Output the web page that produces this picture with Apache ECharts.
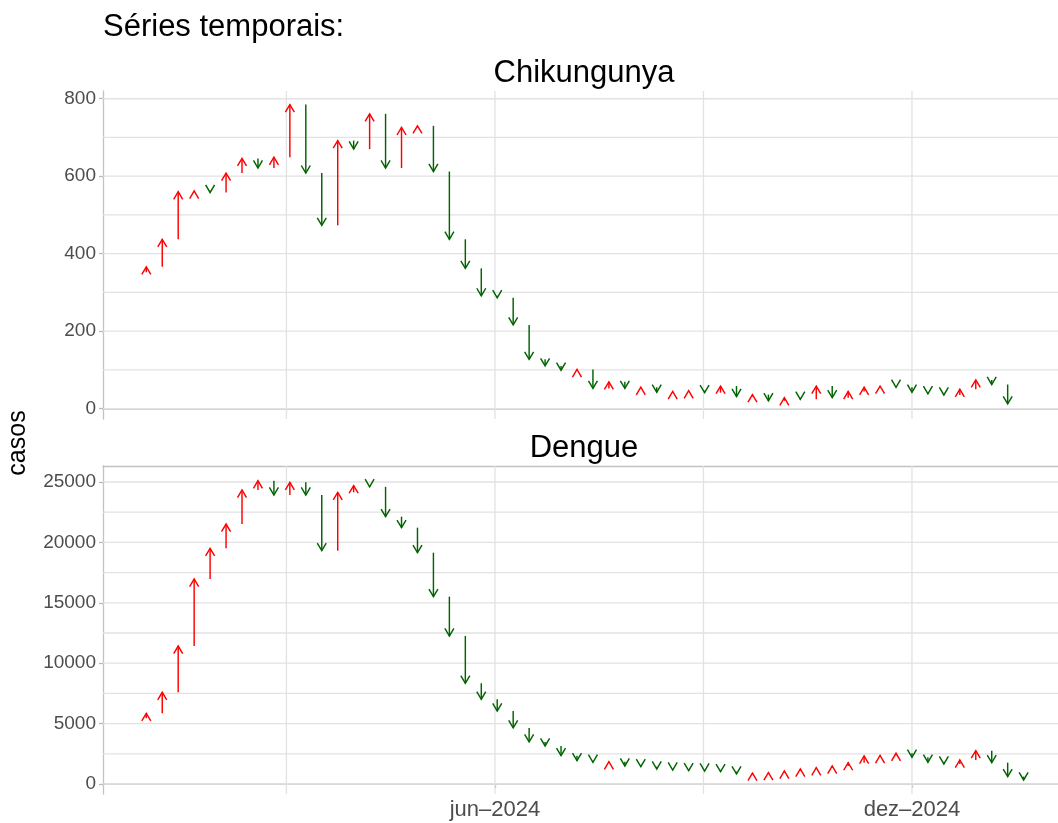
<!DOCTYPE html>
<html><head><meta charset="utf-8">
<script src="https://cdn.jsdelivr.net/npm/echarts@6/dist/echarts.min.js"></script>
<style>html,body{margin:0;padding:0;background:#fff}#c{width:1058px;height:823px}</style>
</head><body><div id="c"></div>
<script>
// ---- data ----
const weeks = ['2023-12-24','2023-12-31','2024-01-07','2024-01-14','2024-01-21','2024-01-28','2024-02-04','2024-02-11','2024-02-18','2024-02-25','2024-03-03','2024-03-10','2024-03-17','2024-03-24','2024-03-31','2024-04-07','2024-04-14','2024-04-21','2024-04-28','2024-05-05','2024-05-12','2024-05-19','2024-05-26','2024-06-02','2024-06-09','2024-06-16','2024-06-23','2024-06-30','2024-07-07','2024-07-14','2024-07-21','2024-07-28','2024-08-04','2024-08-11','2024-08-18','2024-08-25','2024-09-01','2024-09-08','2024-09-15','2024-09-22','2024-09-29','2024-10-06','2024-10-13','2024-10-20','2024-10-27','2024-11-03','2024-11-10','2024-11-17','2024-11-24','2024-12-01','2024-12-08','2024-12-15','2024-12-22','2024-12-29','2025-01-05','2025-01-12','2025-01-19'];
const chikungunya = [352,366,437,560,562,558,608,646,621,649,785,608,473,692,670,761,621,726,730,612,437,362,291,286,216,127,110,99,101,52,69,52,55,42,44,46,41,58,31,36,20,28,24,58,28,44,55,58,55,42,38,35,50,74,62,12];
const dengue = [5450,5850,7590,11420,16970,19510,21520,24340,25110,23920,24975,23920,19315,24145,24700,24600,22130,21220,19150,15510,12250,8336,7010,6040,4640,3480,3145,2345,1930,1795,1840,1490,1435,1240,1150,1100,1070,1020,830,900,940,1075,1240,1350,1490,1765,2320,2360,2540,2210,1795,1655,1987,2760,1765,605,330];
const chikTicks = [0,200,400,600,800];
const chikMinor = [100,300,500,700];
const dengueTicks = [0,5000,10000,15000,20000,25000];
const dengueMinor = [2500,7500,12500,17500,22500];
const xTickDates = ['2024-06-01','2024-12-01'];
const xTickLabels = ['jun\u20132024','dez\u20132024'];
const xMinorDates = ['2024-03-01 12:00','2024-08-31 12:00'];
const panelNames = ['Chikungunya','Dengue'];
const titleText = 'Séries temporais:';
const yTitle = 'casos';

// ---- helpers ----
function ts(s){ return new Date(s.length===10 ? s+'T00:00:00' : s.replace(' ','T')+':00').getTime(); }
const X_MIN = ts('2023-12-12 00:00'), X_MAX = ts('2025-02-03 02:00');
const GRID_COLOR = '#E2E2E2', AXIS_COLOR = '#C2C2C2', LABEL_COLOR = '#4D4D4D';
const FONT = 'Liberation Sans';

function arrowData(vals){
  const out = [];
  for (let k = 1; k < vals.length; k++) out.push([ts(weeks[k]), vals[k-1], vals[k]]);
  return out;
}
function renderArrow(params, api){
  const x = api.value(0), a = api.value(1), b = api.value(2);
  const p1 = api.coord([x,a]), p2 = api.coord([x,b]);
  const up = b >= a;
  const color = up ? '#FF0000' : '#006400';
  const dir = up ? 1 : -1;
  const hl = 7.6, hw = 4.5;
  return {type:'group', children:[
    {type:'line', shape:{x1:p1[0],y1:p1[1],x2:p2[0],y2:p2[1]}, style:{stroke:color,lineWidth:1.45}},
    {type:'polyline', shape:{points:[[p2[0]-hw,p2[1]+dir*hl],[p2[0],p2[1]],[p2[0]+hw,p2[1]+dir*hl]]}, style:{stroke:color,fill:null,lineWidth:1.45}}
  ]};
}
function renderH(params, api){
  const cs = params.coordSys;
  const y = api.coord([api.value(0), api.value(1)])[1];
  return {type:'line', shape:{x1:cs.x,y1:y,x2:cs.x+cs.width,y2:y}, style:{stroke:GRID_COLOR,lineWidth:1.3}, silent:true};
}
function renderV(params, api){
  const cs = params.coordSys;
  const x = api.coord([api.value(0), api.value(1)])[0];
  return {type:'line', shape:{x1:x,y1:cs.y,x2:x,y2:cs.y+cs.height}, style:{stroke:GRID_COLOR,lineWidth:1.3}, silent:true};
}
const vDates = xMinorDates.concat(xTickDates).map(ts);
const xTickTs = xTickDates.map(ts);

function yAxisCfg(idx, min, max, ticks){
  return {type:'value', gridIndex:idx, min:min, max:max,
    axisLine:{show:true,lineStyle:{color:AXIS_COLOR,width:1.3}},
    axisTick:{show:true,customValues:ticks,length:4,lineStyle:{color:'#B8B8B8',width:1.3}},
    axisLabel:{customValues:ticks,color:LABEL_COLOR,fontSize:19,fontFamily:FONT,margin:7,
      formatter:function(v){ return String(v); }},
    splitLine:{show:false}};
}

const chart = echarts.init(document.getElementById('c'), null, {renderer:'canvas'});
chart.setOption({
  animation:false,
  backgroundColor:'#fff',
  grid:[
    {left:103,right:0,top:91,bottom:404},
    {left:103,right:0,top:466,bottom:29}
  ],
  xAxis:[
    {type:'value',gridIndex:0,min:X_MIN,max:X_MAX,axisLine:{show:true,lineStyle:{color:AXIS_COLOR,width:1.5}},axisTick:{show:false},axisLabel:{show:false},splitLine:{show:false}},
    {type:'value',gridIndex:1,min:X_MIN,max:X_MAX,position:'bottom',
      axisLine:{show:true,lineStyle:{color:AXIS_COLOR,width:1.5}},
      axisTick:{show:true,customValues:xTickTs,length:4,lineStyle:{color:'#B8B8B8',width:1.3}},
      axisLabel:{customValues:xTickTs,color:LABEL_COLOR,fontSize:22,fontFamily:FONT,margin:5,
        formatter:function(v){ const i = xTickTs.indexOf(v); return i>=0 ? xTickLabels[i] : ''; }},
      splitLine:{show:false}},
    {type:'value',gridIndex:1,min:X_MIN,max:X_MAX,position:'top',axisLine:{show:true,lineStyle:{color:AXIS_COLOR,width:1.3}},axisTick:{show:false},axisLabel:{show:false},splitLine:{show:false}}
  ],
  yAxis:[
    yAxisCfg(0,-27,820,chikTicks),
    yAxisCfg(1,-830,26325,dengueTicks)
  ],
  graphic:[
    {type:'text',x:103,y:27.5,style:{text:titleText,font:'31px "Liberation Sans"',fill:'#000',textAlign:'left',textVerticalAlign:'middle'}},
    {type:'text',x:584,y:73,style:{text:panelNames[0],font:'31px "Liberation Sans"',fill:'#000',textAlign:'center',textVerticalAlign:'middle'}},
    {type:'text',x:584,y:448,style:{text:panelNames[1],font:'31px "Liberation Sans"',fill:'#000',textAlign:'center',textVerticalAlign:'middle'}},
    {type:'text',x:18,y:443,rotation:Math.PI/2,style:{text:yTitle,font:'25px "Liberation Sans"',fill:'#000',textAlign:'center',textVerticalAlign:'middle'}}
  ],
  series:[
    {type:'custom',xAxisIndex:0,yAxisIndex:0,renderItem:renderH,encode:{x:0,y:1},silent:true,z:1,
      data:chikTicks.concat(chikMinor).map(v=>[X_MIN,v])},
    {type:'custom',xAxisIndex:0,yAxisIndex:0,renderItem:renderV,encode:{x:0,y:1},silent:true,z:1,
      data:vDates.map(d=>[d,0])},
    {type:'custom',xAxisIndex:1,yAxisIndex:1,renderItem:renderH,encode:{x:0,y:1},silent:true,z:1,
      data:dengueTicks.concat(dengueMinor).map(v=>[X_MIN,v])},
    {type:'custom',xAxisIndex:1,yAxisIndex:1,renderItem:renderV,encode:{x:0,y:1},silent:true,z:1,
      data:vDates.map(d=>[d,0])},
    {type:'custom',name:panelNames[0],xAxisIndex:0,yAxisIndex:0,renderItem:renderArrow,encode:{x:0,y:[1,2]},z:3,clip:true,
      data:arrowData(chikungunya)},
    {type:'custom',name:panelNames[1],xAxisIndex:1,yAxisIndex:1,renderItem:renderArrow,encode:{x:0,y:[1,2]},z:3,clip:true,
      data:arrowData(dengue)}
  ]
});
</script></body></html>
